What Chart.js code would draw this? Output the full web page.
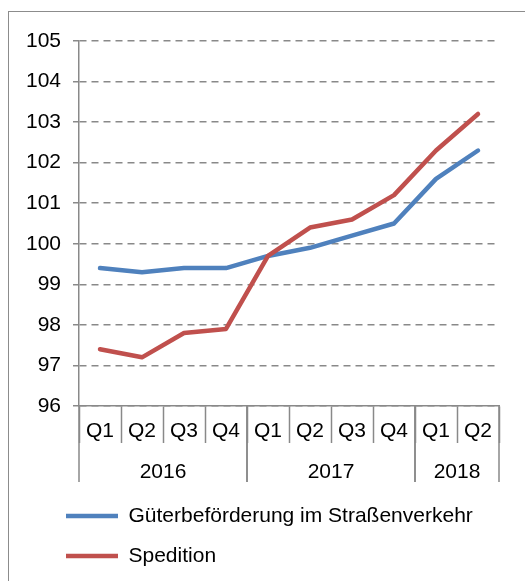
<!DOCTYPE html>
<html>
<head>
<meta charset="utf-8">
<script src="https://cdn.jsdelivr.net/npm/chart.js@4"></script>
<style>
  body { margin: 0; background: #fff; overflow: hidden; }
  #frame { position: absolute; left: 8px; top: 11px; width: 600px; height: 600px; border: 1.5px solid #8c8c8c; }
  canvas { position: absolute; left: 0; top: 0; }
</style>
</head>
<body>
<div id="frame"></div>
<canvas id="chart" width="525" height="581"></canvas>
<script>
const quarters = ['Q1', 'Q2', 'Q3', 'Q4', 'Q1', 'Q2', 'Q3', 'Q4', 'Q1', 'Q2'];
const years = ['2016', '2017', '2018'];
const yearSpans = [4, 4, 2];
const gueter = [99.4, 99.3, 99.4, 99.4, 99.7, 99.9, 100.2, 100.5, 101.6, 102.3];
const spedition = [97.4, 97.2, 97.8, 97.9, 99.7, 100.4, 100.6, 101.2, 102.3, 103.2];

const gray = '#898989';
const font = { family: '"Liberation Sans", Arial, sans-serif', size: 21 };

// second row of the x axis: year labels and long separators
const yearRow = {
    id: 'yearRow',
    afterLayout(chart) {
        // push legend items right, independent of the y axis labels
        chart.legend.left += 27;
    },
    afterDraw(chart) {
        const x = chart.scales.x;
        const c = chart.ctx;
        const half = (x.getPixelForValue(1) - x.getPixelForValue(0)) / 2;
        const top = chart.chartArea.bottom;
        c.save();
        c.strokeStyle = gray;
        c.lineWidth = 1.5;
        c.fillStyle = '#000';
        c.font = font.size + 'px ' + font.family;
        c.textAlign = 'center';
        c.textBaseline = 'middle';
        let start = 0;
        years.forEach((y, i) => {
            const end = start + yearSpans[i];
            const x0 = x.getPixelForValue(start) - half;
            const x1 = x.getPixelForValue(end - 1) + half;
            c.beginPath();
            c.moveTo(x0, top);
            c.lineTo(x0, top + 76);
            c.moveTo(x1, top);
            c.lineTo(x1, top + 76);
            c.stroke();
            c.fillText(y, (x0 + x1) / 2, top + 66);
            start = end;
        });
        c.restore();
    }
};

new Chart(document.getElementById('chart'), {
    type: 'line',
    data: {
        labels: quarters,
        datasets: [{
            label: 'Güterbeförderung im Straßenverkehr',
            data: gueter,
            borderColor: '#4f81bd',
            backgroundColor: '#4f81bd',
            borderWidth: 4.5,
            order: 1
        }, {
            label: 'Spedition',
            data: spedition,
            borderColor: '#c0504d',
            backgroundColor: '#c0504d',
            borderWidth: 4.5,
            order: 0
        }]
    },
    options: {
        responsive: false,
        animation: false,
        layout: { padding: { left: 20, right: 26, top: 41, bottom: 4.5 } },
        elements: {
            line: { tension: 0, borderCapStyle: 'round', borderJoinStyle: 'round' },
            point: { radius: 0 }
        },
        plugins: {
            tooltip: { enabled: false },
            legend: {
                position: 'bottom',
                align: 'start',
                labels: {
                    usePointStyle: true,
                    pointStyle: 'line',
                    pointStyleWidth: 52,
                    padding: 19,
                    color: '#000',
                    font: font,
                    sort: (a, b) => a.datasetIndex - b.datasetIndex
                }
            }
        },
        scales: {
            x: {
                offset: true,
                grid: { offset: true, drawOnChartArea: false, tickLength: 37, tickColor: gray, tickWidth: 1.5 },
                border: { color: gray, width: 1.5 },
                ticks: { color: '#000', font: font, padding: -24, maxRotation: 0, autoSkip: false },
                afterFit(s) { s.height = 80.5; }
            },
            y: {
                min: 96,
                max: 105,
                ticks: { stepSize: 1, color: '#000', font: font, padding: 12 },
                grid: { color: gray, lineWidth: 1.5, tickLength: 6, tickColor: gray, tickWidth: 1.5 },
                border: { color: gray, width: 1.5, dash: [7, 5] },
                afterFit(s) { s.width = 59; }
            }
        }
    },
    plugins: [yearRow]
});
</script>
</body>
</html>
